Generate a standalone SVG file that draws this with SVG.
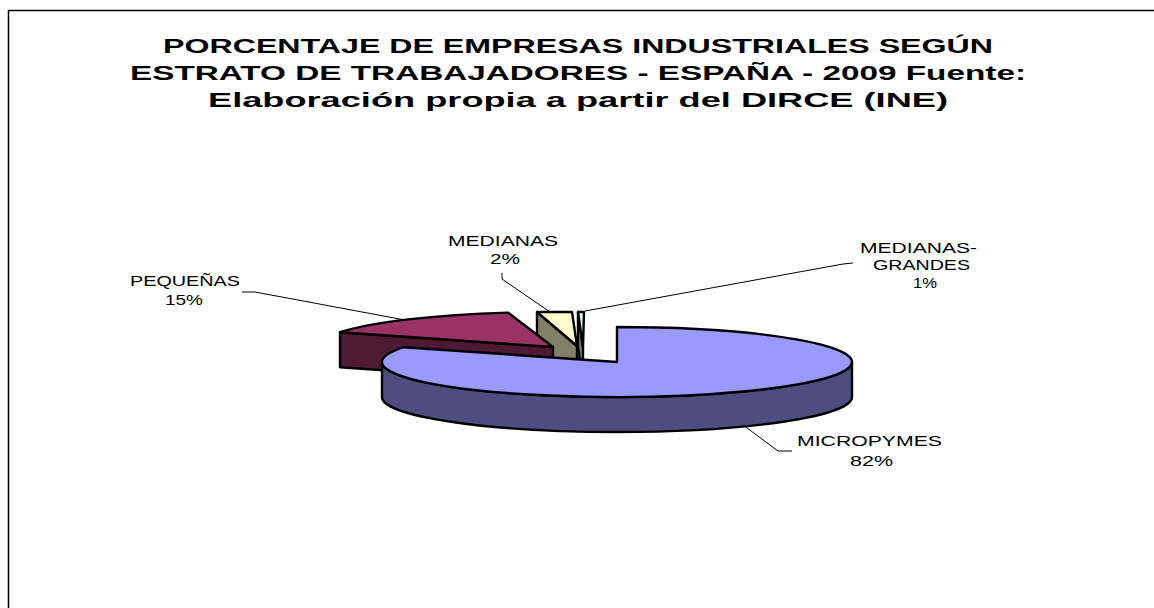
<svg xmlns="http://www.w3.org/2000/svg" width="1154" height="608" viewBox="0 0 1154 608">
<style>
.title{font-family:"Liberation Sans",Arial,sans-serif;font-weight:bold;font-size:21px;fill:#000}
.lbl{font-family:"Liberation Sans",Arial,sans-serif;font-size:14.5px;fill:#000}
.pie{stroke:#000;stroke-width:2.4;stroke-linejoin:round}
.lead{fill:none;stroke:#000;stroke-width:1}
</style>
<rect x="0" y="0" width="1154" height="608" fill="#fff"/>
<rect x="8.5" y="10.5" width="1160" height="620" fill="none" stroke="#000" stroke-width="1.5"/>
<g id="title">
<text class="title" x="163" y="53" textLength="830" lengthAdjust="spacingAndGlyphs">PORCENTAJE DE EMPRESAS INDUSTRIALES SEGÚN</text>
<text class="title" x="130" y="80" textLength="896" lengthAdjust="spacingAndGlyphs">ESTRATO DE TRABAJADORES - ESPAÑA - 2009 Fuente:</text>
<text class="title" x="208" y="107" textLength="740" lengthAdjust="spacingAndGlyphs">Elaboración propia a partir del DIRCE (INE)</text>
</g>
<g id="connectors">
<polyline class="lead" points="242,292 255,292 405,320"/>
<polyline class="lead" points="502,273 502,279 550,312"/>
<polyline class="lead" points="853,263 843,264 585,311"/>
<polyline class="lead" points="743,425 778,451 792,451"/>
</g>
<g id="medianas-grandes">
<polygon class="pie" points="578,312 583,347 583,382 578,347" fill="#668080"/>
<polygon class="pie" points="578,312 584,312 583,347" fill="#ccffff"/>
<text class="lbl" x="860" y="253" textLength="117" lengthAdjust="spacingAndGlyphs">MEDIANAS-</text>
<text class="lbl" x="873" y="270" textLength="97" lengthAdjust="spacingAndGlyphs">GRANDES</text>
<text class="lbl" x="913" y="288" textLength="24" lengthAdjust="spacingAndGlyphs">1%</text>
</g>
<g id="medianas">
<polygon class="pie" points="537,312 577,346 577,381 537,347" fill="#808066"/>
<polygon class="pie" points="537,312 572,312 577,346" fill="#ffffcc"/>
<text class="lbl" x="448" y="246" textLength="110" lengthAdjust="spacingAndGlyphs">MEDIANAS</text>
<text class="lbl" x="490" y="264" textLength="30" lengthAdjust="spacingAndGlyphs">2%</text>
</g>
<g id="pequenas">
<polygon class="pie" points="553,347 340,332.2 340,367.2 553,382" fill="#4d1933"/>
<path class="pie" d="M553,347 L340,332.2 A235,35 0 0 1 508.2,312.6 Z" fill="#993366"/>
<text class="lbl" x="130" y="286" textLength="110" lengthAdjust="spacingAndGlyphs">PEQUEÑAS</text>
<text class="lbl" x="165" y="305" textLength="38" lengthAdjust="spacingAndGlyphs">15%</text>
</g>
<g id="micropymes">
<path class="pie" d="M852,362 A235,35 0 0 1 382,362 L382,397 A235,35 0 0 0 852,397 Z" fill="#4d4d80"/>
<path class="pie" d="M617,362 L617,327 A235,35 0 1 1 404,347.2 Z" fill="#9999ff"/>
<text class="lbl" x="797" y="446" textLength="145" lengthAdjust="spacingAndGlyphs">MICROPYMES</text>
<text class="lbl" x="850" y="466" textLength="43" lengthAdjust="spacingAndGlyphs">82%</text>
</g>
</svg>
